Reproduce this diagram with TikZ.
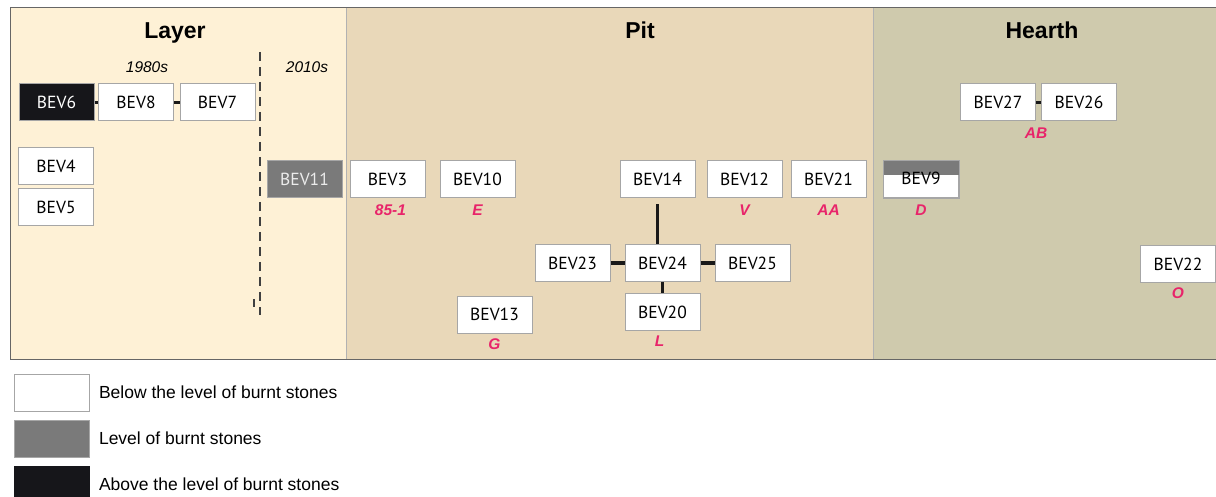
\documentclass[tikz,border=0pt]{standalone}
\usepackage{fontspec}
\setmainfont{Liberation Sans}
\newfontfamily\boxfont{PT Sans}
\usetikzlibrary{positioning,calc}

\definecolor{layerbg}{HTML}{FEF1D6}
\definecolor{pitbg}{HTML}{E9D8B9}
\definecolor{hearthbg}{HTML}{CFCAAD}
\definecolor{burnt}{HTML}{7A7A7A}
\definecolor{above}{HTML}{16161A}
\definecolor{tagred}{HTML}{E8246A}

\begin{document}
\begin{tikzpicture}[x=1pt,y=-1pt,
    sample/.style={minimum width=75pt,minimum height=37pt,inner sep=0pt,draw=gray!70,line width=1pt,fill=white,font=\boxfont\fontsize{17.5}{19}\selectfont},
    burntbox/.style={sample,fill=burnt,text=white!85!gray},
    abovebox/.style={sample,fill=above,text=white},
    tag/.style={text=tagred,font=\fontsize{15.5}{17}\selectfont\bfseries\itshape,inner sep=1pt},
    heading/.style={anchor=base,font=\fontsize{23}{26}\selectfont\bfseries},
    link/.style={line width=3.5pt,black!90}]
    \useasboundingbox (0,0) rectangle (1216,497);
    \fill[white] (0,0) rectangle (1216,497);

    % panels
    \fill[layerbg] (10,8) rectangle (346,359);
    \fill[pitbg] (346,8) rectangle (873,359);
    \fill[hearthbg] (873,8) rectangle (1216,359);
    \draw[gray!80!black,line width=1pt] (1216,8) -- (10,8) -- (10,359) -- (1216,359);
    \draw[gray!60,line width=.8pt] (346,8) -- (346,359);
    \draw[gray!60,line width=.8pt] (873,8) -- (873,359);

    \node[heading] (tlayer) at (175,39) {Layer};
    \node[heading] (tpit) at (640,39) {Pit};
    \node[heading] (thearth) at (1042,39) {Hearth};

    \node[font=\fontsize{15.5}{17}\selectfont\itshape] (y80) at (147,67) {1980s};
    \node[font=\fontsize{15.5}{17}\selectfont\itshape] (y10) at (307,67) {2010s};
    \draw[gray!50!black,line width=1.2pt,dash pattern=on 9pt off 6pt] (260,52) -- (260,315);
    \draw[gray!50!black,line width=1.2pt] (254,299) -- (254,307);

    % layer
    \node[abovebox] (bev6) at (56.5,102.5) {BEV6};
    \node[sample] (bev8) at (136,102.5) {BEV8};
    \node[sample] (bev7) at (217.5,102.5) {BEV7};
    \node[sample] (bev4) at (56,166.5) {BEV4};
    \node[sample] (bev5) at (56,207.5) {BEV5};
    \node[burntbox] (bev11) at (304.5,179.5) {BEV11};

    % pit
    \node[sample] (bev3) at (387.5,179.5) {BEV3};
    \node[sample] (bev10) at (477.5,179.5) {BEV10};
    \node[sample] (bev14) at (657.5,179.5) {BEV14};
    \node[sample] (bev12) at (744.5,179.5) {BEV12};
    \node[sample] (bev21) at (828.5,179.5) {BEV21};
    \node[sample] (bev23) at (572.5,263) {BEV23};
    \node[sample] (bev24) at (662.5,263) {BEV24};
    \node[sample] (bev25) at (752.5,263) {BEV25};
    \node[sample] (bev20) at (662.5,312) {BEV20};
    \node[sample] (bev13) at (494.5,314.5) {BEV13};

    % hearth
    \node[sample] (bev9) at (921,179.5) {};
    \fill[burnt] (bev9.north west) rectangle ($(bev9.north east)+(0,15)$);
    \draw[gray!70,line width=1pt] (bev9.north west) rectangle (bev9.south east);
    \node[font=\boxfont\fontsize{17.5}{19}\selectfont] at ($(bev9)+(0,-1)$) {BEV9};
    \node[sample] (bev27) at (998,102.5) {BEV27};
    \node[sample] (bev26) at (1079,102.5) {BEV26};
    \node[sample] (bev22) at (1178,264.5) {BEV22};

    \foreach \a/\b in {bev6/bev8,bev8/bev7,bev23/bev24,bev24/bev25,bev27/bev26} {
        \draw[link] (\a.east) -- (\b.west); }
    \draw[link] (bev24.south) -- (bev20.north);
    \draw[link,shorten <=6pt] (bev14.south) -- (bev14.south |- bev24.north);

    \node[tag,below=5pt of bev3,xshift=3pt] (t3) {85-1};
    \node[tag,below=5pt of bev10] (t10) {E};
    \node[tag,below=5pt of bev12] (t12) {V};
    \node[tag,below=5pt of bev21] (t21) {AA};
    \node[tag,below=4pt of bev20,xshift=-3pt] (t20) {L};
    \node[tag,below=4pt of bev13] (t13) {G};
    \node[tag,below=5pt of bev9] (t9) {D};
    \node[tag,below=5pt of bev27.south east] (t27) {AB};
    \node[tag,below=3pt of bev22] (t22) {O};

    % legend
    \node[sample] (lbelow) at (51.5,392.5) {};
    \node[sample,fill=burnt] (llevel) at (51.5,438.5) {};
    \node[sample,fill=above,draw=above] (labove) at (51.5,484.5) {};
    \node[right=6pt of lbelow,font=\fontsize{17.5}{19}\selectfont] (txbelow) {Below the level of burnt stones};
    \node[right=6pt of llevel,font=\fontsize{17.5}{19}\selectfont] (txlevel) {Level of burnt stones};
    \node[right=6pt of labove,font=\fontsize{17.5}{19}\selectfont] (txabove) {Above the level of burnt stones};
\end{tikzpicture}
\end{document}
